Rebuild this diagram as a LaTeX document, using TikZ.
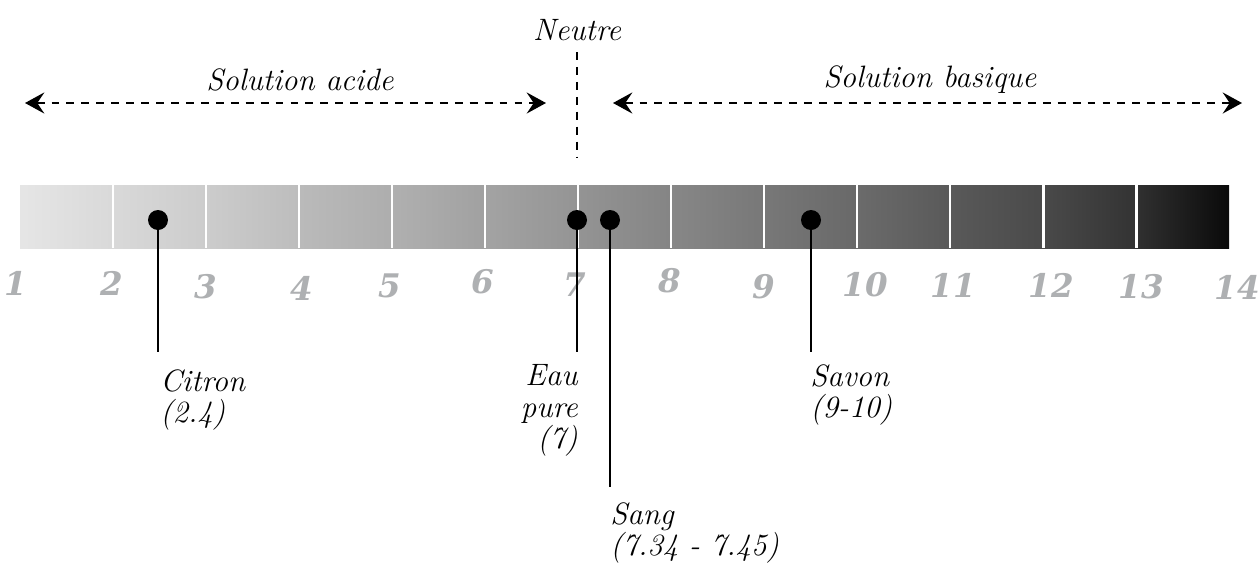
\documentclass[tikz,border=0pt]{standalone}
\usepackage{fontspec}
\usetikzlibrary{arrows.meta}
\newfontfamily\numfont{DejaVu Serif}
\definecolor{numgray}{HTML}{AEB0B2}
\tikzstyle{lbl}=[font=\fontsize{17.6}{18}\selectfont\itshape, inner sep=0pt]
\tikzstyle{num}=[font=\fontsize{18.5}{18.5}\numfont\bfseries\itshape, text=numgray, inner sep=0pt]
\tikzstyle{dot}=[circle, fill=black, inner sep=0pt, minimum size=4mm]
\tikzstyle{leader}=[line width=1.1pt]
\tikzstyle{phrange}=[line width=1.1pt, dash pattern=on 4.5pt off 4pt,
  {Stealth[length=11pt, width=12pt, inset=4pt]}-{Stealth[length=11pt, width=12pt, inset=4pt]}]
\tikzstyle{sep}=[white, line width=1.7pt]

\begin{document}
\begin{tikzpicture}[x=0.02cm, y=-0.02cm]
        \useasboundingbox (0,0) rectangle (1259,562);

        % pH bar
        \foreach \i/\a/\b in {0/10/15, 1/15/20, 2/20/26, 3/27/32, 4/31/37, 5/36/42,
                              6/42/48, 7/47/53, 8/53/59, 9/58/65, 10/65/71, 11/71/80, 12/81/96}
          \shade[left color=black!\a, right color=black!\b] ({20+93*\i},185) rectangle ({113+93*\i},248);
        \foreach \i in {1,...,12}
          \draw[sep] ({20+93*\i},185) -- ({20+93*\i},248);

        % scale 1 .. 14
        \foreach \n/\x/\y in {1/16/283, 2/112/283, 3/206/287, 4/302/288, 5/390/286, 6/483/282, 7/575/285,
                              8/670/281, 9/764/287, 10/865/285, 11/953/285, 12/1051/285, 13/1141/287, 14/1237/287}
          \node[num] (n\n) at (\x,\y) {\n};

        % NEUTRE
        \node[lbl] (neutre) at (577,30) {Neutre};
        \coordinate (neutreTop) at (577,52);
        \coordinate (neutreBot) at (577,158);
        \draw[line width=1.1pt, dash pattern=on 4.5pt off 4pt] (neutreTop) -- (neutreBot);

        % acid side
        \node[lbl] (acide) at (300,80) {Solution acide};
        \coordinate (acL) at (25,103);
        \coordinate (acR) at (546,103);
        \draw[phrange] (acL) -- (acR);

        % basic side
        \node[lbl] (basique) at (930,80) {Solution basique};
        \coordinate (baL) at (613,103);
        \coordinate (baR) at (1242,103);
        \draw[phrange] (baL) -- (baR);

        % markers
        \node[dot] (citron) at (158,220) {};
        \node[dot] (eau) at (577,220) {};
        \node[dot] (sang) at (610,220) {};
        \node[dot] (savon) at (811,220) {};

        \coordinate (citronEnd) at (158,352);
        \coordinate (eauEnd) at (577,352);
        \coordinate (sangEnd) at (610,487);
        \coordinate (savonEnd) at (811,352);

        \draw[leader] (citron.center) -- (citronEnd);
        \draw[leader] (eau.center) -- (eauEnd);
        \draw[leader] (sang.center) -- (sangEnd);
        \draw[leader] (savon.center) -- (savonEnd);

        % labels
        \node[lbl, anchor=north west, align=left] (citronTxt) at (160,369) {Citron\\(2.4)};
        \node[lbl, anchor=north east, align=right] (eauTxt) at (578,364) {Eau\\pure\\(7)};
        \node[lbl, anchor=north west, align=left] (sangTxt) at (610,502) {Sang\\(7.34 - 7.45)};
        \node[lbl, anchor=north west, align=left] (savonTxt) at (810,364) {Savon\\(9-10)};
    \end{tikzpicture}
\end{document}
